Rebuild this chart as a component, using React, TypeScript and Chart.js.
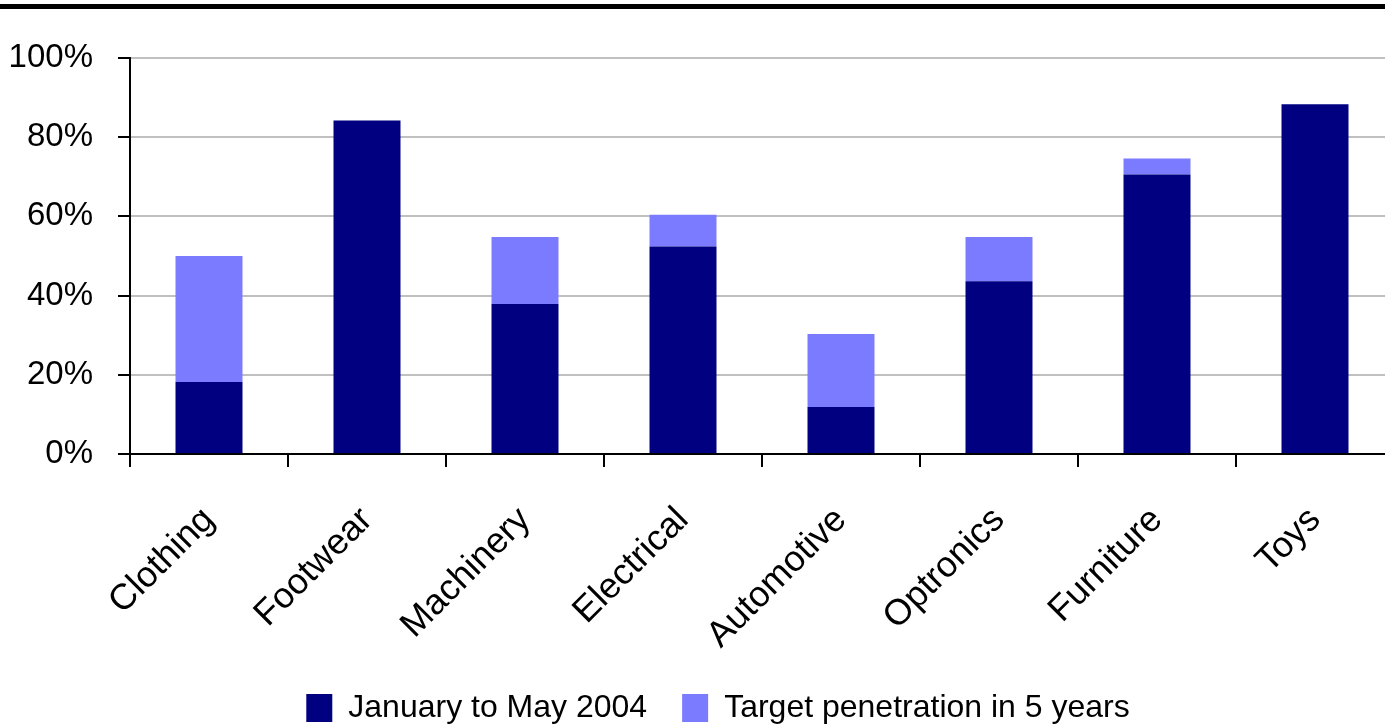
import React, { useEffect, useRef } from "react";
import { Chart, registerables } from "chart.js";

Chart.register(...registerables);

const categories = ["Clothing", "Footwear", "Machinery", "Electrical", "Automotive", "Optronics", "Furniture", "Toys"];
const janToMay2004 = [18.2, 84.2, 37.9, 52.4, 11.9, 43.6, 70.6, 88.3];
const targetIncrement = [31.8, 0, 16.9, 8.0, 18.4, 11.2, 4.0, 0];
const seriesNames = ["January to May 2004", "Target penetration in 5 years"];
const yTicks = [0, 20, 40, 60, 80, 100];

const FONT = "'Liberation Sans', Arial, sans-serif";
const OFFSET = 7;
const CANVAS_W = 1442;

export default function App() {
  const ref = useRef<HTMLCanvasElement | null>(null);
  useEffect(() => {
    document.body.style.margin = "0";
    const canvas = ref.current!;
    const chart = new Chart(canvas, {
      type: "bar",
      data: {
        labels: categories,
        datasets: [
          { label: seriesNames[0], data: janToMay2004, backgroundColor: "#000080", borderWidth: 0 },
          { label: seriesNames[1], data: targetIncrement, backgroundColor: "#7b7bff", borderWidth: 0 },
        ],
      },
      options: {
        responsive: false,
        animation: false,
        events: [],
        layout: { padding: { top: 58 - OFFSET, right: 6, left: 0, bottom: 0 } },
        datasets: { bar: { categoryPercentage: 1, barPercentage: 0.424 } },
        plugins: {
          tooltip: { enabled: false },
          legend: {
            position: "bottom",
            labels: {
              boxWidth: 26,
              boxHeight: 28,
              padding: 35,
              color: "#000",
              font: { family: FONT, size: 32 },
            },
          },
        },
        scales: {
          x: {
            stacked: true,
            afterFit: (s: any) => { s.height = 203; },
            grid: {
              offset: true,
              drawOnChartArea: false,
              drawTicks: true,
              tickLength: 13,
              color: "#000",
              lineWidth: 2,
            },
            border: { color: "#000", width: 2 },
            ticks: {
              maxRotation: 45,
              minRotation: 45,
              padding: 32,
              color: "#000",
              font: { family: FONT, size: 36 },
            },
          },
          y: {
            stacked: true,
            min: 0,
            max: 100,
            afterFit: (s: any) => { s.width = 130; },
            afterBuildTicks: (s: any) => { s.ticks = yTicks.map((v) => ({ value: v })); },
            grid: {
              color: (c: any) => (c.tick && c.tick.value === 0 ? "#000" : "#c0c0c0"),
              lineWidth: 2,
              tickColor: "#000",
              tickLength: 12,
              tickWidth: 2,
            },
            border: { color: "#000", width: 2 },
            ticks: {
              padding: 25,
              color: "#000",
              font: { family: FONT, size: 33 },
              callback: (v: any) => v + "%",
            },
          },
          yRight: {
            type: "linear",
            position: "right",
            min: 0,
            max: 100,
            afterFit: (s: any) => { s.width = 42; },
            grid: { display: false, drawTicks: false },
            border: { display: false },
            ticks: { display: false },
          },
        },
      },
    });
    return () => chart.destroy();
  }, []);
  return (
    <div style={{ position: "fixed", left: 0, top: 0, width: 1385, height: 727, overflow: "hidden", background: "#fff" }}>
      <div style={{ position: "absolute", left: 0, top: 4, width: 1385, height: 5, background: "#000" }} />
      <canvas ref={ref} width={CANVAS_W} height={727} style={{ position: "absolute", left: 0, top: OFFSET, width: CANVAS_W, height: 727 }} />
    </div>
  );
}
